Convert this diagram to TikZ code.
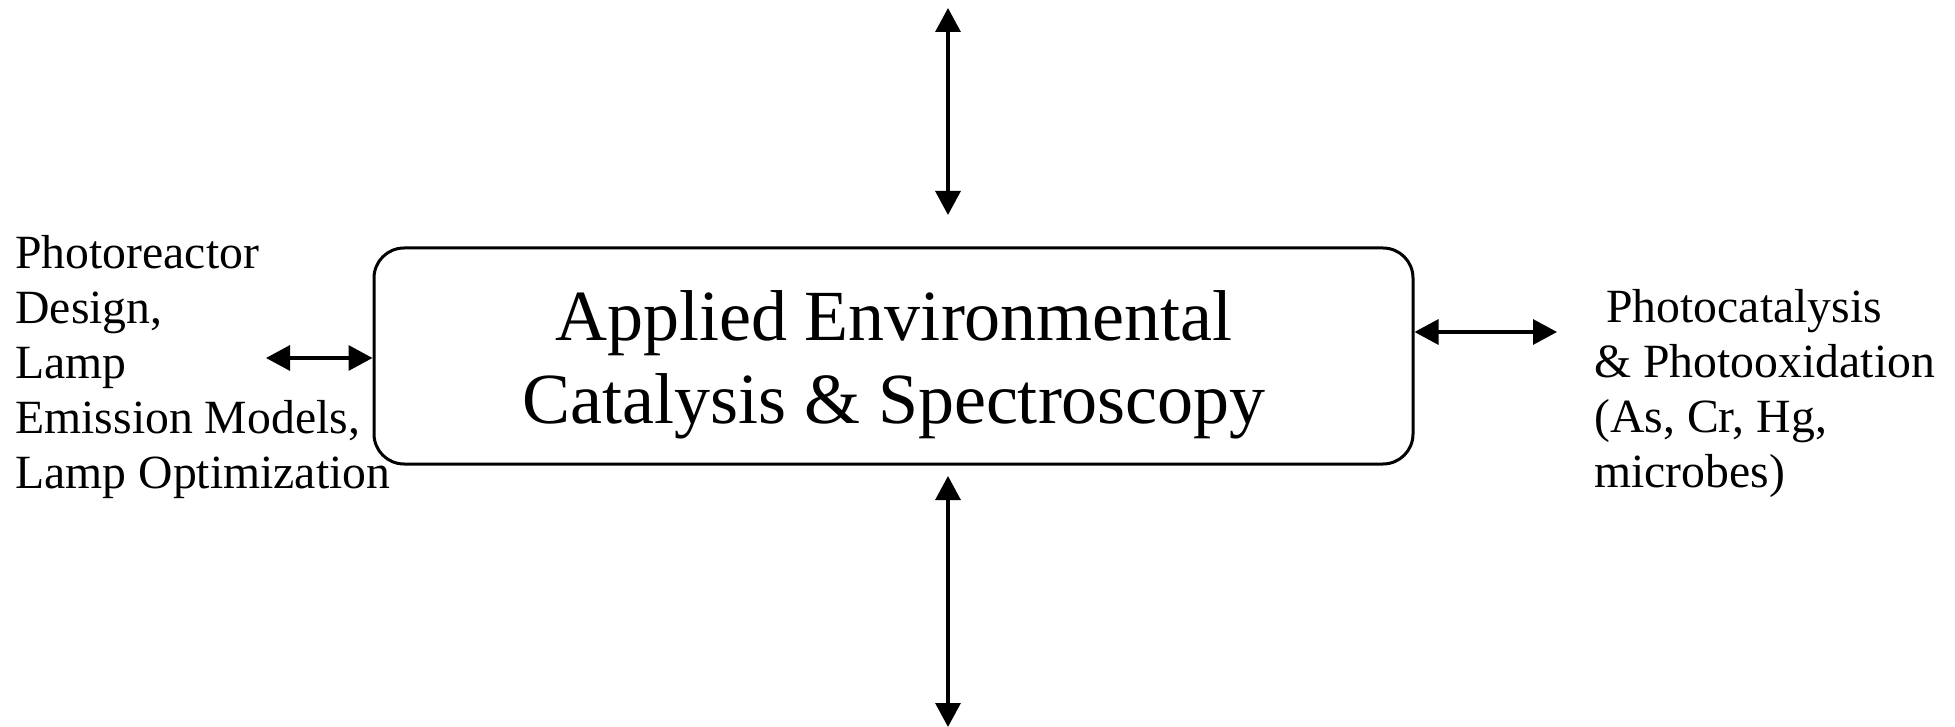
\documentclass[tikz,border=0pt]{standalone}
\usepackage{fontspec}
\setmainfont{Liberation Serif}
\usetikzlibrary{arrows.meta}
\usetikzlibrary{calc}

\begin{document}
\begin{tikzpicture}[x=0.5pt,y=-0.5pt,
	biarrow/.style={line width=1.6pt,{Triangle[length=12pt,width=12.5pt]}-{Triangle[length=12pt,width=12.5pt]}},
	mainbox/.style={draw,line width=1.5pt,rounded corners=15pt,minimum width=519.5pt,minimum height=108pt,inner sep=0pt},
	sidetext/.style={align=left,inner sep=0pt,anchor=north west,font=\fontsize{23.85}{27.5}\selectfont}]

		\useasboundingbox (0,0) rectangle (1955,727);

		\node [mainbox] (core) at (893.5,356) {};
		\node [font=\fontsize{36}{41.5}\selectfont,align=center,inner sep=0pt] (title) at (894,364.5)
			{Applied Environmental\\Catalysis \& Spectroscopy};

		\node [sidetext] (reactor) at (15,235.5)
			{Photoreactor\\Design,\\Lamp\\Emission Models,\\Lamp Optimization};
		\node [sidetext] (photo) at (1594,289.5)
			{\hspace{0.25em}Photocatalysis\\\& Photooxidation\\(As, Cr, Hg,\\microbes)};

		% free ends of the arrows
		\coordinate (L) at (266,358);
		\coordinate (R) at (1557,332);
		\coordinate (T1) at (948,8);
		\coordinate (T2) at (948,215);
		\coordinate (B1) at (948,476);
		\coordinate (B2) at (948,727);

		\draw [biarrow] (L)--(L -| core.west);
		\draw [biarrow] (R -| core.east)--(R);
		\draw [biarrow] (T1)--(T2);
		\draw [biarrow] (B1)--(B2);

\end{tikzpicture}
\end{document}
